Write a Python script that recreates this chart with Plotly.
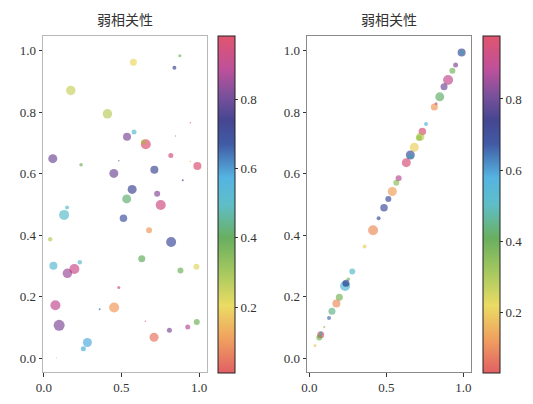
import plotly.graph_objects as go

# left panel: scattered points (x, y, marker diameter px, colour value)
left_x = [0.577, 0.876, 0.841, 0.174, 0.410, 0.944, 0.848, 0.581, 0.536, 0.657,
          0.641, 0.818, 0.058, 0.240, 0.483, 0.944, 0.989, 0.451, 0.712, 0.895,
          0.569, 0.730, 0.534, 0.753, 0.150, 0.131, 0.513, 0.678, 0.041, 0.820,
          0.062, 0.232, 0.631, 0.880, 0.983, 0.152, 0.197, 0.483, 0.075, 0.360,
          0.453, 0.654, 0.099, 0.985, 0.927, 0.809, 0.710, 0.281, 0.255, 0.081]
left_y = [0.963, 0.984, 0.945, 0.871, 0.795, 0.766, 0.723, 0.736, 0.720, 0.696,
          0.703, 0.659, 0.649, 0.629, 0.642, 0.640, 0.625, 0.601, 0.613, 0.579,
          0.549, 0.535, 0.518, 0.498, 0.490, 0.466, 0.455, 0.416, 0.387, 0.378,
          0.301, 0.312, 0.323, 0.285, 0.297, 0.276, 0.290, 0.230, 0.172, 0.159,
          0.165, 0.120, 0.107, 0.118, 0.101, 0.091, 0.068, 0.051, 0.031, 0.001]
left_size = [7, 3, 4, 9.5, 9.5, 1.5, 1.5, 5, 8, 10,
             5, 5, 9, 3.5, 1.5, 1.5, 8, 9, 8, 2,
             9, 6, 9, 10, 4, 10, 7.5, 6, 4.5, 10,
             8, 4.5, 7, 6, 6, 9.5, 10, 3, 10, 2,
             10, 1.5, 11, 6, 5, 5, 9, 9, 5, 1]
left_c = [0.20, 0.38, 0.72, 0.25, 0.27, 0.95, 0.40, 0.50, 0.82, 0.97,
          0.28, 0.95, 0.80, 0.38, 0.80, 0.12, 0.97, 0.80, 0.72, 0.72,
          0.72, 0.83, 0.42, 0.93, 0.50, 0.50, 0.68, 0.10, 0.28, 0.70,
          0.52, 0.50, 0.40, 0.38, 0.22, 0.85, 0.92, 0.97, 0.90, 0.65,
          0.10, 0.95, 0.82, 0.38, 0.88, 0.82, 0.05, 0.58, 0.58, 0.52]

# right panel: points along y = x
right_x = [0.989, 0.989, 0.950, 0.929, 0.901, 0.875, 0.847, 0.823, 0.812, 0.758,
           0.734, 0.721, 0.712, 0.682, 0.656, 0.658, 0.630, 0.580, 0.565, 0.539,
           0.513, 0.485, 0.450, 0.414, 0.359, 0.279, 0.253, 0.232, 0.238, 0.195,
           0.176, 0.147, 0.128, 0.097, 0.074, 0.065, 0.076, 0.037]
right_y = [0.994, 0.994, 0.954, 0.935, 0.905, 0.883, 0.850, 0.828, 0.817, 0.762,
           0.737, 0.720, 0.716, 0.686, 0.661, 0.657, 0.636, 0.585, 0.571, 0.542,
           0.518, 0.489, 0.455, 0.416, 0.363, 0.282, 0.257, 0.235, 0.244, 0.198,
           0.178, 0.153, 0.131, 0.101, 0.076, 0.067, 0.080, 0.041]
right_size = [8, 4, 5, 6, 10, 7, 9, 3, 7, 4,
              7.5, 8, 6, 9, 9, 5, 9, 6, 6, 9,
              6, 7.5, 4, 10, 4, 6, 3.5, 10, 7, 7,
              8, 7, 4, 2, 7, 6, 4, 3]
right_c = [0.70, 0.50, 0.82, 0.38, 0.90, 0.80, 0.42, 0.90, 0.12, 0.55,
           0.95, 0.28, 0.32, 0.20, 0.70, 0.50, 0.95, 0.88, 0.35, 0.13,
           0.70, 0.70, 0.70, 0.10, 0.20, 0.52, 0.38, 0.55, 0.72, 0.38,
           0.10, 0.45, 0.65, 0.35, 0.97, 0.38, 0.50, 0.20]

titles = ["弱相关性", "弱相关性"]

A = 0.75
cscale = [
    [0.00, f"rgba(215,42,48,{A})"],
    [0.10, f"rgba(235,128,42,{A})"],
    [0.20, f"rgba(228,208,48,{A})"],
    [0.30, f"rgba(135,182,42,{A})"],
    [0.40, f"rgba(55,148,42,{A})"],
    [0.50, f"rgba(42,168,182,{A})"],
    [0.58, f"rgba(28,155,215,{A})"],
    [0.68, f"rgba(2,35,135,{A})"],
    [0.75, f"rgba(8,8,108,{A})"],
    [0.82, f"rgba(75,22,122,{A})"],
    [0.90, f"rgba(168,22,122,{A})"],
    [1.00, f"rgba(215,28,62,{A})"],
]

# the page body adds an 8px offset, so lay out in page pixels minus 8
OFF = 8
W, H = 533 - 2 * OFF, 404 - 2 * OFF


def px(v):
    return (v - OFF) / W


def py(v):
    return 1 - (v - OFF) / H


tick_font = dict(family="Times New Roman, serif", size=13, color="#333")


def cbar(x0):
    return dict(
        x=px(x0), xanchor="left", thickness=17, thicknessmode="pixels",
        len=337 / H, y=py((36 + 373) / 2), yanchor="middle",
        xpad=0, ypad=0,
        outlinecolor="#222", outlinewidth=1,
        tickvals=[0.2, 0.4, 0.6, 0.8], tickformat=".1f",
        ticks="outside", ticklen=3, tickcolor="#333",
        tickfont=tick_font,
    )


fig = go.Figure()
fig.add_trace(go.Scatter(
    x=left_x, y=left_y, mode="markers", xaxis="x", yaxis="y",
    marker=dict(size=left_size, color=left_c, colorscale=cscale,
                cmin=0.01, cmax=0.982, line=dict(width=0),
                colorbar=cbar(218)),
    showlegend=False,
))
fig.add_trace(go.Scatter(
    x=right_x, y=right_y, mode="markers", xaxis="x2", yaxis="y2",
    marker=dict(size=right_size, color=right_c, colorscale=cscale,
                cmin=0.03, cmax=0.977, line=dict(width=0),
                colorbar=cbar(483)),
    showlegend=False,
))

ydom = [py(372), py(36)]
common = dict(showgrid=False, zeroline=False, showline=True, mirror=True,
              linewidth=1, ticks="outside", ticklen=3.5,
              tickcolor="#333", tickfont=tick_font)

title_font = dict(family="Noto Sans CJK SC", size=14, color="#333")

fig.update_layout(
    width=W, height=H,
    margin=dict(l=0, r=0, t=0, b=0, autoexpand=False),
    paper_bgcolor="white", plot_bgcolor="white",
    xaxis=dict(domain=[px(43), px(207)], range=[-0.005, 1.051], linecolor="#b8b8b8",
               tickvals=[0, 0.5, 1.0], tickformat=".1f", **common),
    yaxis=dict(domain=ydom, range=[-0.045, 1.048], linecolor="#b8b8b8",
               tickvals=[0, 0.2, 0.4, 0.6, 0.8, 1.0], tickformat=".1f", **common),
    xaxis2=dict(domain=[px(307), px(471)], range=[-0.015, 1.05], anchor="y2",
                linecolor="#8a8a8a",
                tickvals=[0, 0.5, 1.0], tickformat=".1f", **common),
    yaxis2=dict(domain=ydom, range=[-0.045, 1.048], anchor="x2",
                linecolor="#8a8a8a",
                tickvals=[0, 0.2, 0.4, 0.6, 0.8, 1.0], tickformat=".1f", **common),
    annotations=[
        dict(text=titles[0], x=px(125), y=py(19), xref="paper", yref="paper",
             xanchor="center", yanchor="middle", showarrow=False, font=title_font),
        dict(text=titles[1], x=px(389), y=py(19), xref="paper", yref="paper",
             xanchor="center", yanchor="middle", showarrow=False, font=title_font),
    ],
)

fig.write_html("out.html")
